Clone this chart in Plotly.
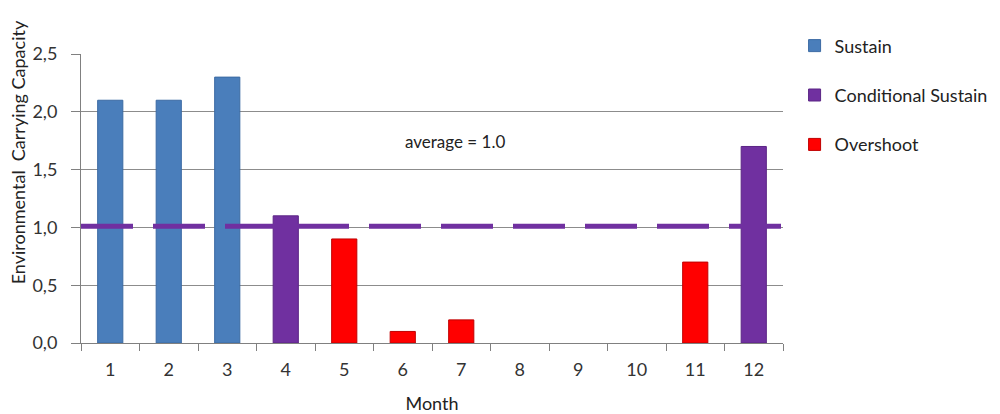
import plotly.graph_objects as go

months = [str(m) for m in range(1, 13)]
sustain = [2.1, 2.1, 2.3, None, None, None, None, None, None, None, None, None]
conditional = [None, None, None, 1.1, None, None, None, None, None, None, None, 1.7]
overshoot = [None, None, None, None, 0.9, 0.1, 0.2, None, None, None, 0.7, None]
average = 1.01
y_ticks = [0.0, 0.5, 1.0, 1.5, 2.0, 2.5]
y_tick_text = ["0,0", "0,5", "1,0", "1,5", "2,0", "2,5"]

FONT = "Lato"
FS = 18
fig = go.Figure()
series = [("Sustain", sustain, "#4a7ebb", "#3b6aa3"),
          ("Conditional Sustain", conditional, "#7030a0", "#5b2585"),
          ("Overshoot", overshoot, "#ff0000", "#c00000")]
for i, (name, vals, col, edge) in enumerate(series):
    fig.add_trace(go.Bar(x=months, y=vals, name=name, marker_color=col,
                         marker_line=dict(color=edge, width=1), width=0.43,
                         legendgroup=f"g{i}"))

fig.add_shape(type="line", xref="x domain", yref="y", x0=0, x1=1,
              y0=average, y1=average,
              line=dict(color="#7030a0", width=5, dash="52px,20px"), layer="above")

fig.add_annotation(x=5.9, y=1.74, xref="x", yref="y", text="average = 1.0",
                   showarrow=False, font=dict(family=FONT, size=17, color="#222"))

fig.add_annotation(x=-0.0897, y=0.66, xref="paper", yref="paper",
                   xanchor="center", yanchor="middle",
                   text="Environmental  Carrying Capacity", textangle=-90,
                   showarrow=False, font=dict(family=FONT, size=18, color="#222"))

# page body has an 8px margin: figure sits at (8, 8)
fig.update_layout(
    width=992, height=406,
    margin=dict(l=73, r=217, t=46, b=71, autoexpand=False),
    paper_bgcolor="white", plot_bgcolor="white",
    barmode="overlay",
    font=dict(family=FONT, size=FS, color="#333"),
    showlegend=True,
    legend=dict(x=1.0165, y=1.092, xanchor="left", yanchor="top",
                tracegroupgap=23, itemwidth=30,
                font=dict(family=FONT, size=18, color="#222"),
                bgcolor="rgba(0,0,0,0)"),
    xaxis=dict(type="category", range=[-0.5, 11.5], tickson="boundaries",
               ticks="outside", ticklen=7, tickcolor="#808080",
               showline=True, linecolor="#808080", linewidth=1,
               showgrid=False, ticklabelstandoff=10, automargin=False,
               tickfont=dict(family=FONT, size=FS, color="#333"),
               title=dict(text="Month", standoff=31,
                          font=dict(family=FONT, size=18, color="#222"))),
    yaxis=dict(range=[0, 2.5], tickvals=y_ticks, ticktext=y_tick_text,
               ticks="outside", ticklen=9, tickcolor="#808080",
               showline=True, linecolor="#808080", linewidth=1,
               showgrid=True, gridcolor="#8c8c8c", gridwidth=1,
               zeroline=False, ticklabelstandoff=10, automargin=False,
               tickfont=dict(family=FONT, size=FS, color="#333")),
)

fig.write_html("out.html")
